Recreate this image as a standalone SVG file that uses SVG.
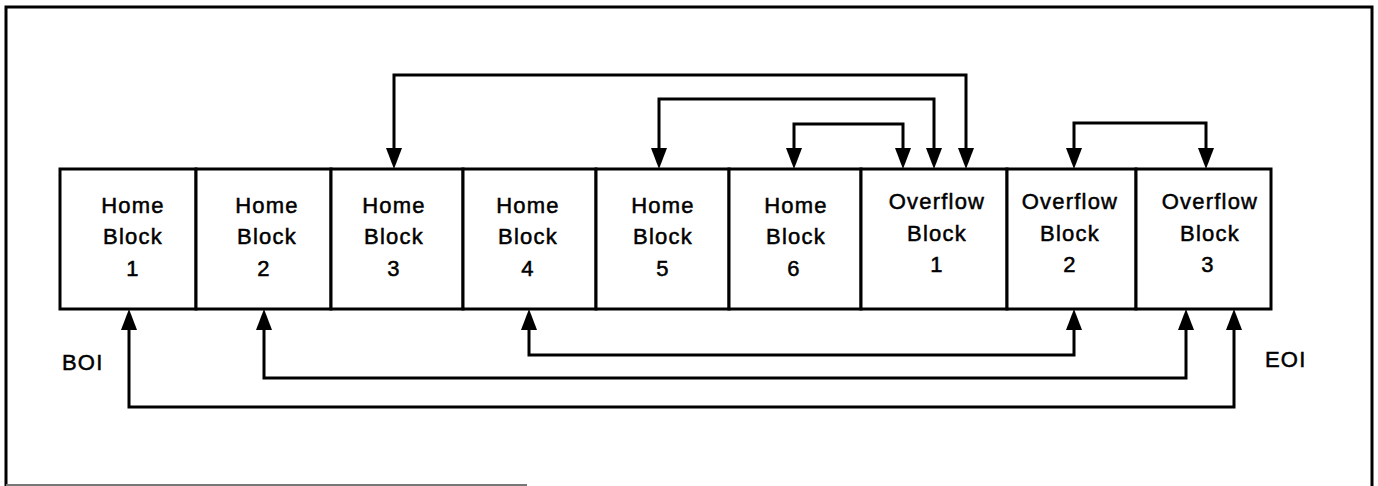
<svg xmlns="http://www.w3.org/2000/svg" width="1378" height="486" viewBox="0 0 1378 486">
<style>
.blk{fill:#fff;stroke:#000;stroke-width:3}
.t{font-family:"Liberation Sans",Arial,sans-serif;font-size:22px;letter-spacing:1.2px;fill:#000;stroke:#000;stroke-width:0.5;text-anchor:middle}
.lbl{font-family:"Liberation Sans",Arial,sans-serif;font-size:22px;letter-spacing:1.2px;fill:#000;stroke:#000;stroke-width:0.5}
.c{fill:none;stroke:#000;stroke-width:3;marker-start:url(#ah);marker-end:url(#ah)}
.frame{fill:none;stroke:#000;stroke-width:3}
</style>
<defs>
<marker id="ah" viewBox="0 0 21 16" refX="5" refY="8" markerWidth="21" markerHeight="16" markerUnits="userSpaceOnUse" orient="auto-start-reverse">
<path d="M0,0 L21,8 L0,16 z" fill="#000"/>
</marker>
</defs>
<rect width="1378" height="486" fill="#fff"/>
<g id="frame">
<path class="frame" d="M6,486 V7 H1372 V486"/>
<path d="M6,485 H527" stroke="#777" stroke-width="2" fill="none"/>
</g>
<g id="home1"><rect class="blk" x="60" y="169" width="136" height="140"/><text class="t" x="133" y="213">Home</text><text class="t" x="133" y="244">Block</text><text class="t" x="133" y="276">1</text></g>
<g id="home2"><rect class="blk" x="196" y="169" width="135" height="140"/><text class="t" x="267" y="213">Home</text><text class="t" x="267" y="244">Block</text><text class="t" x="264" y="276">2</text></g>
<g id="home3"><rect class="blk" x="331" y="169" width="132" height="140"/><text class="t" x="394" y="213">Home</text><text class="t" x="394" y="244">Block</text><text class="t" x="394" y="276">3</text></g>
<g id="home4"><rect class="blk" x="463" y="169" width="133" height="140"/><text class="t" x="528" y="213">Home</text><text class="t" x="528" y="244">Block</text><text class="t" x="528" y="276">4</text></g>
<g id="home5"><rect class="blk" x="596" y="169" width="133" height="140"/><text class="t" x="663" y="213">Home</text><text class="t" x="663" y="244">Block</text><text class="t" x="663" y="276">5</text></g>
<g id="home6"><rect class="blk" x="729" y="169" width="132" height="140"/><text class="t" x="796" y="213">Home</text><text class="t" x="796" y="244">Block</text><text class="t" x="794" y="276">6</text></g>
<g id="overflow1"><rect class="blk" x="861" y="169" width="146" height="140"/><text class="t" x="937" y="209">Overflow</text><text class="t" x="937" y="241">Block</text><text class="t" x="937" y="272">1</text></g>
<g id="overflow2"><rect class="blk" x="1007" y="169" width="129" height="140"/><text class="t" x="1070" y="209">Overflow</text><text class="t" x="1070" y="241">Block</text><text class="t" x="1070" y="272">2</text></g>
<g id="overflow3"><rect class="blk" x="1136" y="169" width="135" height="140"/><text class="t" x="1210" y="209">Overflow</text><text class="t" x="1210" y="241">Block</text><text class="t" x="1208" y="272">3</text></g>
<g id="labels">
<text class="lbl" x="62" y="370">BOI</text>
<text class="lbl" x="1265" y="367">EOI</text>
</g>
<g id="connectors">
<path class="c" d="M394,153 V75 H966 V153"/>
<path class="c" d="M659,153 V99 H934 V153"/>
<path class="c" d="M794,153 V124 H903 V153"/>
<path class="c" d="M1074,153 V123 H1206 V153"/>
<path class="c" d="M529,325 V355 H1074 V325"/>
<path class="c" d="M264,325 V378 H1186 V325"/>
<path class="c" d="M129,325 V407 H1234 V325"/>
</g>
</svg>
